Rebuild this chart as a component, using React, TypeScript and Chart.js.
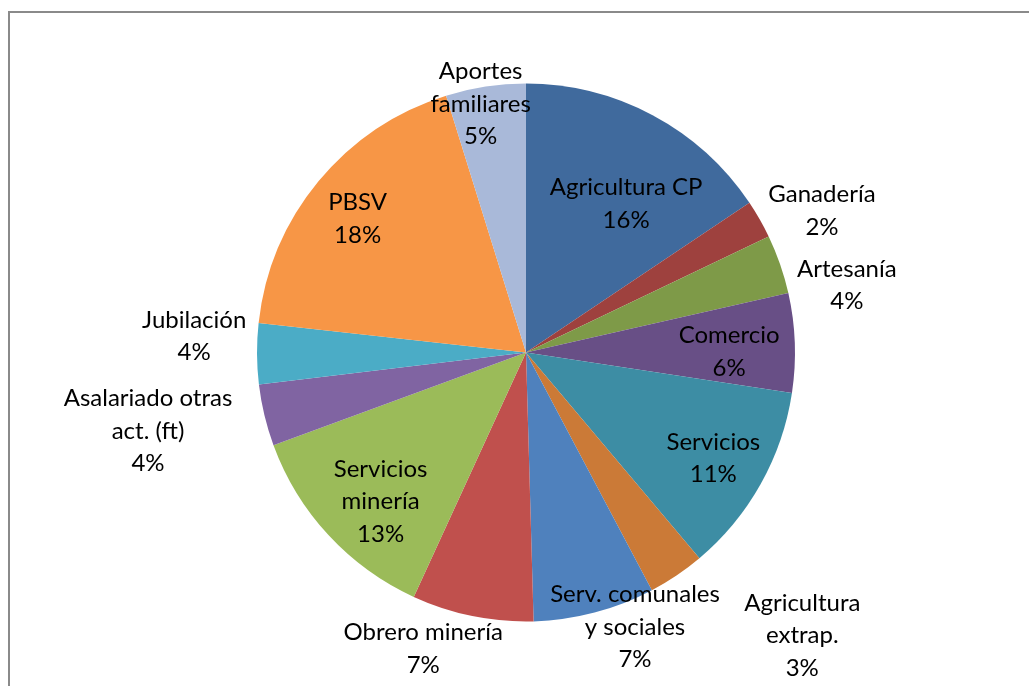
import React, { useEffect, useRef } from "react";
import { Chart, registerables } from "chart.js";

Chart.register(...registerables);

// ---- data ----
const categories: string[] = [
  "Agricultura CP",
  "Ganadería",
  "Artesanía",
  "Comercio",
  "Servicios",
  "Agricultura\nextrap.",
  "Serv. comunales\ny sociales",
  "Obrero minería",
  "Servicios\nminería",
  "Asalariado otras\nact. (ft)",
  "Jubilación",
  "PBSV",
  "Aportes\nfamiliares",
];

const shares: number[] = [15.6, 2.3, 3.55, 5.95, 11.45, 3.4, 7.3, 7.3, 12.55, 3.7, 3.65, 18.45, 4.8];

const sliceColors: string[] = [
  "#406A9D",
  "#9E413E",
  "#7E9A48",
  "#684F86",
  "#3D8DA4",
  "#CB7A37",
  "#4F81BD",
  "#C0504D",
  "#9BBB59",
  "#8064A2",
  "#4BACC6",
  "#F79646",
  "#A9B9D9",
];

// label placement (radius factor relative to outer radius, angle shift in degrees from slice middle)
const labelRadius: number[] = [0.666, 1.22, 1.219, 0.755, 0.8, 1.47, 1.098, 1.166, 0.774, 1.435, 1.235, 0.799, 0.939];
const labelShift: number[] = [5.9, 4.1, 7.3, 1.8, 0.25, -10.3, -6.9, 7.6, -2.95, 1.8, 3.1, -1.1, -1.7];

const FONT_FAMILY = 'Lato, "Open Sans", sans-serif';
const FONT_SIZE = 24;
const LINE_HEIGHT = 32.5;

const framePlugin = {
  id: "frame",
  beforeDraw(chart: any) {
    const ctx = chart.ctx;
    ctx.save();
    ctx.fillStyle = "#ffffff";
    ctx.fillRect(0, 0, chart.width, chart.height);
    ctx.strokeStyle = "#8a8a8a";
    ctx.lineWidth = 2;
    ctx.beginPath();
    ctx.moveTo(9, chart.height + 5);
    ctx.lineTo(9, 12);
    ctx.lineTo(chart.width + 5, 12);
    ctx.stroke();
    ctx.restore();
  },
};

const labelPlugin = {
  id: "sliceLabels",
  afterDatasetsDraw(chart: any) {
    const ctx = chart.ctx;
    const meta = chart.getDatasetMeta(0);
    const data: number[] = chart.data.datasets[0].data;
    const total = data.reduce((a: number, b: number) => a + b, 0);
    ctx.save();
    ctx.font = `${FONT_SIZE}px ${FONT_FAMILY}`;
    ctx.fillStyle = "#000000";
    ctx.textAlign = "center";
    ctx.textBaseline = "middle";
    meta.data.forEach((arc: any, i: number) => {
      const p = arc.getProps(["x", "y", "startAngle", "endAngle", "outerRadius"], true);
      const mid = (p.startAngle + p.endAngle) / 2 + (labelShift[i] * Math.PI) / 180;
      const r = p.outerRadius * labelRadius[i];
      const cx = p.x + Math.cos(mid) * r;
      const cy = p.y + Math.sin(mid) * r;
      const pct = Math.round((data[i] / total) * 100) + "%";
      const lines = [...String(chart.data.labels[i]).split("\n"), pct];
      const startY = cy - ((lines.length - 1) * LINE_HEIGHT) / 2;
      lines.forEach((ln, k) => ctx.fillText(ln, cx, startY + k * LINE_HEIGHT));
    });
    ctx.restore();
  },
};

export default function App() {
  const ref = useRef<HTMLCanvasElement | null>(null);
  useEffect(() => {
    if (!ref.current) return;
    const chart = new Chart(ref.current, {
      type: "pie",
      data: {
        labels: categories,
        datasets: [
          {
            data: shares,
            backgroundColor: sliceColors,
            borderWidth: 0,
          },
        ],
      },
      options: {
        responsive: false,
        animation: false,
        devicePixelRatio: 1,
        layout: { padding: { left: 257, right: 234, top: 83.5, bottom: 64.5 } },
        plugins: {
          legend: { display: false },
          tooltip: { enabled: false },
        },
      },
      plugins: [framePlugin, labelPlugin],
    });
    return () => chart.destroy();
  }, []);
  return (
    <div style={{ position: "fixed", left: 0, top: 0, width: 1029, height: 686, background: "#fff" }}>
      <canvas ref={ref} width={1029} height={686} style={{ display: "block" }} />
    </div>
  );
}
